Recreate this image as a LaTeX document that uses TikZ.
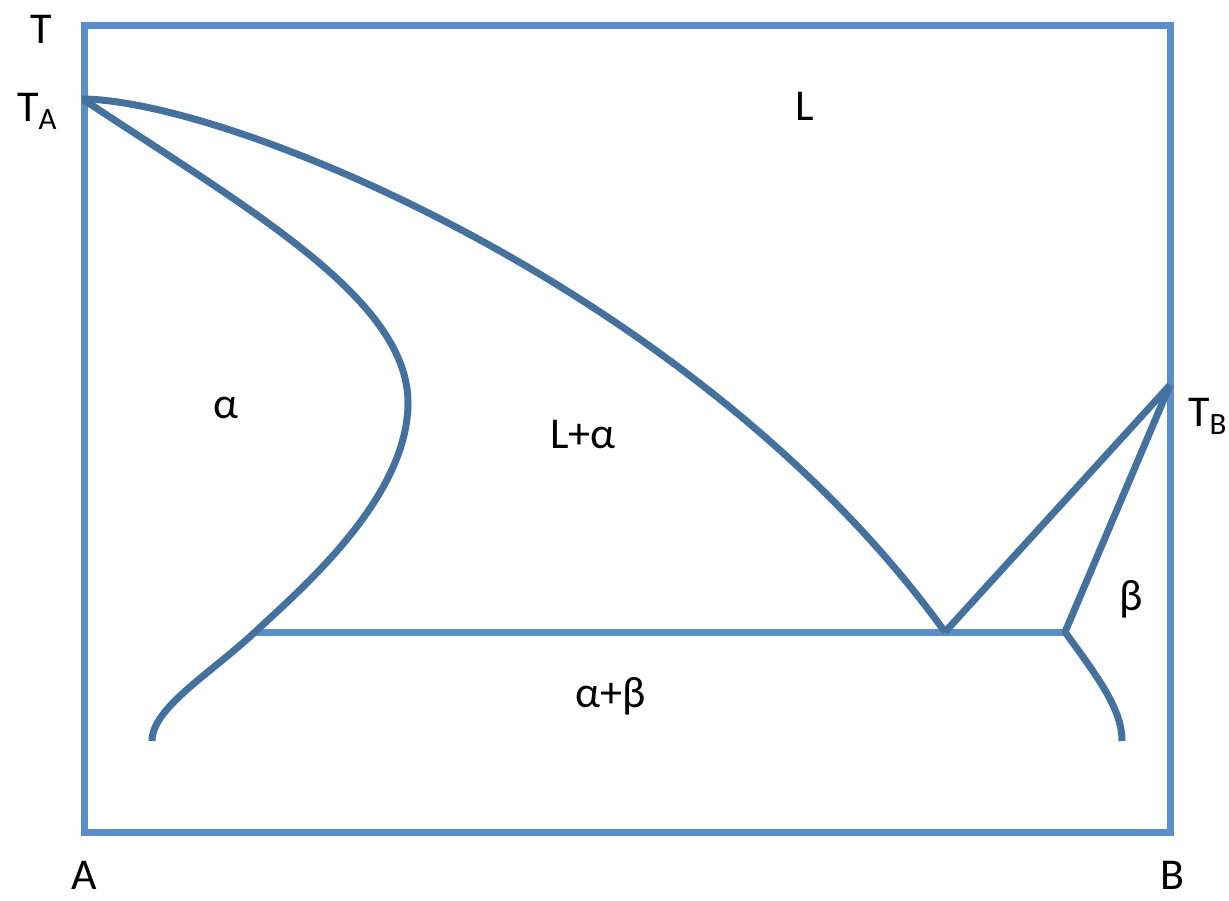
\documentclass[tikz,border=0pt]{standalone}
\usepackage{fontspec}
\setmainfont{Carlito}
\definecolor{boxblue}{HTML}{5B8DC8}
\definecolor{curveblue}{HTML}{44719E}
\begin{document}
\begin{tikzpicture}[x=1pt,y=-1pt,
  boxline/.style={draw=boxblue,line width=7pt},
  curve/.style={draw=curveblue,line width=7pt,line join=round},
  lbl/.style={inner sep=0pt,text=black,font=\fontsize{44}{50}\selectfont}]
\useasboundingbox[fill=white] (0,0) rectangle (1229,900);
% frame
\draw[boxline] (84,25) rectangle (1170,832);
% key points
\coordinate (TA) at (84,100);
\coordinate (TB) at (1170,385);
\coordinate (E) at (945,632);
\coordinate (Pa) at (255,632);
\coordinate (Pb) at (1065,632);
\coordinate (bulge) at (408,405);
\coordinate (alow) at (152,741);
\coordinate (blow) at (1122,741);
% eutectic line
\draw[draw=boxblue,line width=7pt] (Pa) -- (Pb);
% liquidus
\draw[curve] (82,99) .. controls (230,100) and (700,292) .. (E);
\draw[curve] (E) -- (TB);
% alpha solidus / solvus
\draw[curve] (TA) .. controls (250,210) and (410,300) .. (bulge)
  .. controls (406,500) and (300,590) .. (Pa)
  .. controls (210,674) and (152,708) .. (alow);
% beta solidus / solvus
\draw[curve] (TB) -- (Pb) .. controls (1100,680) and (1122,710) .. (blow);
% labels
\node[lbl,anchor=base] (T) at (41,43) {T};
\node[lbl,anchor=base west] (tA) at (17,121) {T\raisebox{-8pt}{\fontsize{31}{31}\selectfont A}};
\node[lbl,anchor=base west] (tB) at (1188,426) {T\raisebox{-8pt}{\fontsize{31}{31}\selectfont B}};
\node[lbl,anchor=base] (L) at (805,120) {L};
\node[lbl,anchor=base] (alpha) at (226,418) {α};
\node[lbl,anchor=base] (La) at (583,448) {L+α};
\node[lbl,anchor=base] (ab) at (611,707) {α+β};
\node[lbl,anchor=base] (beta) at (1131,610) {β};
\node[lbl,anchor=base] (A) at (84,889) {A};
\node[lbl,anchor=base] (B) at (1172,889) {B};
\end{tikzpicture}
\end{document}
